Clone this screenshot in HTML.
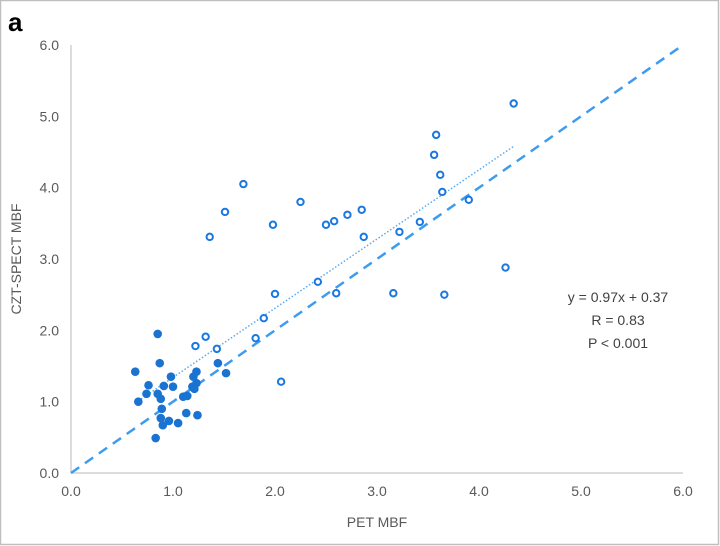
<!DOCTYPE html>
<html><head><meta charset="utf-8"><style>
html,body{margin:0;padding:0;background:#fff;}
svg{display:block;font-family:"Liberation Sans",sans-serif;}
</style></head><body>
<svg id="chart" width="720" height="546">
<rect x="0.5" y="0.5" width="718" height="544" fill="#fff" stroke="#bfbfbf" stroke-width="1.5"/>
<text x="8" y="31" font-size="26" font-weight="bold" fill="#000">a</text>
<g id="axes"></g>
<g id="marks"></g>
<text x="377" y="527" font-size="14" fill="#595959" text-anchor="middle">PET MBF</text>
<text transform="translate(21,259) rotate(-90)" font-size="14" fill="#595959" text-anchor="middle">CZT-SPECT MBF</text>
<g font-size="14" fill="#404040" text-anchor="middle">
<text x="618" y="302">y = 0.97x + 0.37</text>
<text x="618" y="325">R = 0.83</text>
<text x="618" y="348">P &lt; 0.001</text>
</g>
</svg>
<script>
const ticks = [0,1,2,3,4,5,6];
const tickLabels = ["0.0","1.0","2.0","3.0","4.0","5.0","6.0"];
const openX = [1.69,1.51,1.36,1.98,2.25,2.50,2.58,2.71,2.85,2.87,3.22,3.42,3.58,3.56,3.62,3.64,3.90,4.34,4.26,3.66,3.16,2.60,2.00,2.42,2.06,1.89,1.81,1.32,1.22,1.43];
const openY = [4.05,3.66,3.31,3.48,3.80,3.48,3.53,3.62,3.69,3.31,3.38,3.52,4.74,4.46,4.18,3.94,3.83,5.18,2.88,2.50,2.52,2.52,2.51,2.68,1.28,2.17,1.89,1.91,1.78,1.74];
const filledX = [0.85,0.87,0.63,0.76,0.98,0.91,1.00,0.74,0.66,0.85,0.88,0.89,1.10,1.14,1.23,1.20,1.23,1.19,1.21,1.44,1.52,1.13,1.24,0.88,0.96,0.90,1.05,0.83];
const filledY = [1.95,1.54,1.42,1.23,1.35,1.22,1.21,1.11,1.00,1.11,1.04,0.90,1.07,1.08,1.42,1.35,1.26,1.21,1.18,1.54,1.40,0.84,0.81,0.77,0.73,0.67,0.70,0.49];
const slope = [0.97];
const intercept = [0.37];
const fitRange = [0.63,4.34];

const NS="http://www.w3.org/2000/svg";
const X0=71,X1=683,Y0=473,Y1=45;
const sx=v=>X0+(X1-X0)*v/6, sy=v=>Y0-(Y0-Y1)*v/6;
function mk(t,a,p){const e=document.createElementNS(NS,t);for(const k in a)e.setAttribute(k,a[k]);p.appendChild(e);return e;}
const axes=document.getElementById('axes'), marks=document.getElementById('marks');
let e;
e=mk('line',{x1:X0,y1:Y0,x2:X1,y2:Y0,stroke:'#d0d0d0','stroke-width':1.5},axes);


e=mk('line',{x1:X0,y1:Y0,x2:X0,y2:Y1,stroke:'#d0d0d0','stroke-width':1.5},axes);


ticks.forEach((t,i)=>{
 let a=mk('text',{x:sx(t),y:Y0+23,'font-size':14,fill:'#595959','text-anchor':'middle'},axes);a.textContent=tickLabels[i];
 
 
 let b=mk('text',{x:X0-12,y:sy(t)+5,'font-size':14,fill:'#595959','text-anchor':'end'},axes);b.textContent=tickLabels[i];
 
 
});
e=mk('line',{x1:sx(0),y1:sy(0),x2:sx(6),y2:sy(6),stroke:'#3d9cf0','stroke-width':2.5,'stroke-dasharray':'10,7'},marks);


e=mk('line',{x1:sx(fitRange[0]),y1:sy(slope[0]*fitRange[0]+intercept[0]),x2:sx(fitRange[1]),y2:sy(slope[0]*fitRange[1]+intercept[0]),stroke:'#5aaaf0','stroke-width':1.5,'stroke-dasharray':'1.5,2'},marks);


filledX.forEach((x,i)=>{
 const c=mk('circle',{cx:sx(x),cy:sy(filledY[i]),r:4.3,fill:'#1a73d1'},marks);
 
 
});
openX.forEach((x,i)=>{
 const c=mk('circle',{cx:sx(x),cy:sy(openY[i]),r:3.2,fill:'#fff',stroke:'#1a78e0','stroke-width':2}, marks);
 
 
});
</script>
</body></html>
